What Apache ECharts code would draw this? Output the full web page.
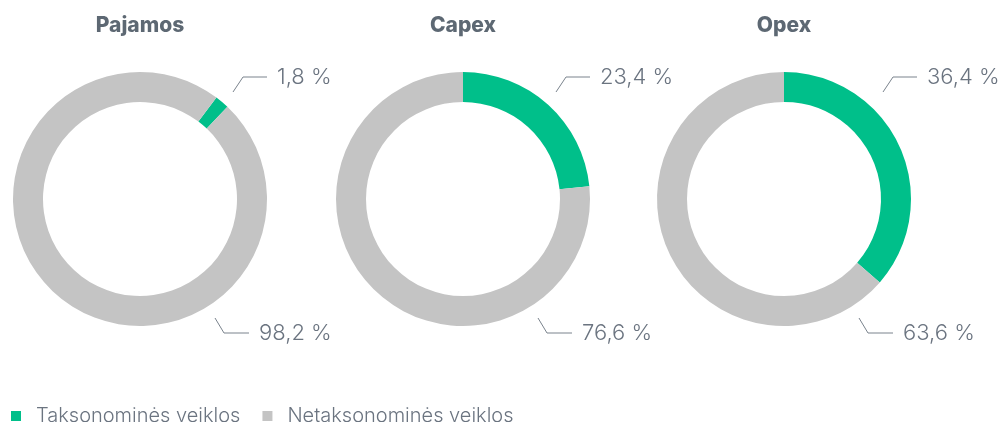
<!DOCTYPE html>
<html>
<head>
<meta charset="utf-8">
<script src="https://cdn.jsdelivr.net/npm/echarts@6/dist/echarts.min.js"></script>
<style>
  html, body { margin: 0; padding: 0; background: #fff; }
  #chart { width: 1000px; height: 422px; }
</style>
</head>
<body>
<div id="chart"></div>
<script>
const chartTitles = ['Pajamos', 'Capex', 'Opex']
const categories = ['Taksonominės veiklos', 'Netaksonominės veiklos']
const taxShare = [1.8, 23.4, 36.4]
const nonTaxShare = [98.2, 76.6, 63.6]

const GREEN = '#00BF8A'
const GREY = '#C4C4C4'
const TEXT = '#6B7480'
const FONT = 'Inter, "Open Sans", sans-serif'

// layout of the three donuts
const centersX = [140, 463, 784]
const CY = 199
const startAngles = [53, 90, 90]
const upperShift = [0, 0, 6]

function fmt(v) {
  return v.toFixed(1).replace('.', ',') + ' %'
}

// leader lines sit at fixed spots, not at slice midpoints
function placeLabel(params) {
  const i = params.seriesIndex
  const cx = centersX[i]
  if (params.dataIndex === 0) {
    const s = upperShift[i]
    return {
      x: cx + 137 + s, y: CY - 122, align: 'left', verticalAlign: 'middle',
      labelLinePoints: [[cx + 93 + s, CY - 107], [cx + 103 + s, CY - 122], [cx + 127 + s, CY - 122]],
    }
  }
  return {
    x: cx + 119, y: CY + 134, align: 'left', verticalAlign: 'middle',
    labelLinePoints: [[cx + 75, CY + 119], [cx + 84, CY + 134], [cx + 109, CY + 134]],
  }
}

const chart = echarts.init(document.getElementById('chart'))

chart.setOption({
  animation: false,
  backgroundColor: '#fff',
  textStyle: { fontFamily: FONT },
  title: chartTitles.map((t, i) => ({
    text: t,
    left: centersX[i], top: 15, textAlign: 'center', padding: 0,
    textStyle: { color: '#5D6873', fontSize: 21, fontWeight: 800, fontFamily: FONT },
  })),
  legend: {
    data: categories,
    left: 11, top: 406, padding: 0,
    icon: 'rect', itemWidth: 10, itemHeight: 10, itemGap: 22,
    selectedMode: false,
    textStyle: { color: TEXT, fontSize: 20, fontWeight: 300, fontFamily: FONT, padding: [0, 0, 0, 10] },
  },
  series: chartTitles.map((t, i) => ({
    type: 'pie',
    name: t,
    center: [centersX[i], CY],
    radius: [97, 127],
    startAngle: startAngles[i],
    clockwise: true,
    silent: true,
    avoidLabelOverlap: false,
    emphasis: { disabled: true },
    data: [
      { name: categories[0], value: taxShare[i], itemStyle: { color: GREEN } },
      { name: categories[1], value: nonTaxShare[i], itemStyle: { color: GREY } },
    ],
    label: {
      show: true, position: 'outside',
      formatter: (p) => fmt(p.value),
      color: TEXT, fontSize: 22, fontWeight: 300, fontFamily: FONT,
    },
    labelLine: { show: true, lineStyle: { color: '#7A838D', width: 1 } },
    labelLayout: placeLabel,
  })),
})
</script>
</body>
</html>
